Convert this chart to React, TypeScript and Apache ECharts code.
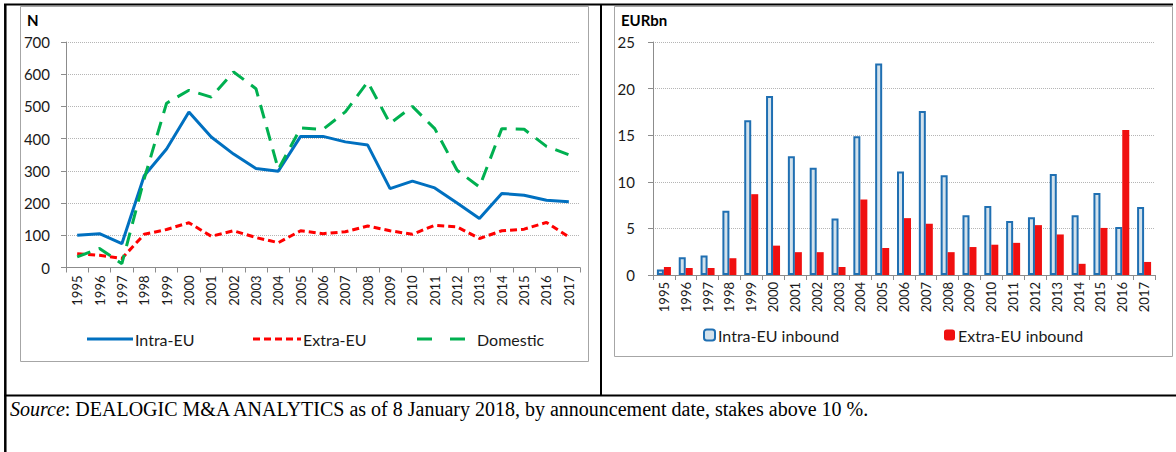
import React, { useEffect, useRef } from "react";
import * as echarts from "echarts";

const years = ["1995","1996","1997","1998","1999","2000","2001","2002","2003","2004","2005","2006","2007","2008","2009","2010","2011","2012","2013","2014","2015","2016","2017"];

// Left chart: number of deals (N)
const intraEU = [100,105,74,285,368,483,405,352,307,299,407,407,390,380,245,268,247,200,152,230,224,209,204];
const extraEU = [43,38,28,103,118,139,97,114,93,77,114,105,111,129,114,103,131,126,90,114,119,140,95];
const domestic = [33,59,12,275,510,550,529,607,555,305,433,429,483,576,447,500,431,302,250,431,429,376,350];

// Right chart: value (EURbn)
const intraEUInbound = [0.6,1.9,2.1,6.9,16.6,19.2,12.75,11.5,6.05,14.9,22.7,11.1,17.6,10.7,6.4,7.4,5.8,6.2,10.85,6.4,8.8,5.15,7.3];
const extraEUInbound = [0.86,0.75,0.75,1.8,8.67,3.15,2.45,2.45,0.86,8.1,2.9,6.1,5.5,2.45,3.0,3.25,3.45,5.35,4.35,1.2,5.05,15.55,1.4];

const leftTicks = { min: 0, max: 700, interval: 100 };
const rightTicks = { min: 0, max: 25, interval: 5 };

const FONT = "Lato, 'Open Sans', sans-serif";
const BLUE = "#0070C0";
const RED = "#FF0000";
const GREEN = "#00B050";

const ICON_SOLID = "path://M0,0L46,0L46,3L0,3Z";
const ICON_SHORT = "path://M0,0L7,0L7,3L0,3ZM11,0L18,0L18,3L11,3ZM22,0L29,0L29,3L22,3ZM33,0L40,0L40,3L33,3ZM44,0L48,0L48,3L44,3Z";
const ICON_LONG = "path://M0,0L15,0L15,3L0,3ZM33,0L48,0L48,3L33,3Z";

export default function App() {
  const ref = useRef<HTMLDivElement>(null);
  useEffect(() => {
    if (!ref.current) return;
    const chart = echarts.init(ref.current, null, { renderer: "svg" });
    const axisCommonX = {
      type: "category" as const,
      data: years,
      boundaryGap: true,
      axisLine: { lineStyle: { color: "#8c8c8c", width: 1 } },
      axisTick: { show: true, length: 5, lineStyle: { color: "#8c8c8c" } },
      axisLabel: { rotate: 90, fontSize: 13, color: "#1a1a1a", fontFamily: FONT, interval: 0, margin: 8 },
      splitLine: { show: false },
    };
    const axisCommonY = {
      type: "value" as const,
      axisLine: { show: true, lineStyle: { color: "#8c8c8c", width: 1 } },
      axisTick: { show: true, length: 5, lineStyle: { color: "#8c8c8c" } },
      splitLine: { show: true, lineStyle: { color: "#b5b5b5", type: "dotted" as const, width: 1 } },
      axisLabel: { fontSize: 15, color: "#1a1a1a", fontFamily: FONT, margin: 16 },
    };
    const legText = { fontSize: 16, color: "#1a1a1a", fontFamily: FONT };
    chart.setOption({
      animation: false,
      backgroundColor: "#ffffff",
      grid: [
        { left: 66, right: 596, top: 42, bottom: 184.5 },
        { left: 653, right: 21, top: 42, bottom: 177 },
      ],
      xAxis: [
        { ...axisCommonX, gridIndex: 0 },
        { ...axisCommonX, gridIndex: 1, axisLabel: { ...axisCommonX.axisLabel, margin: 7 } },
      ],
      yAxis: [
        { ...axisCommonY, gridIndex: 0, ...leftTicks },
        { ...axisCommonY, gridIndex: 1, ...rightTicks, axisLabel: { ...axisCommonY.axisLabel, margin: 18 } },
      ],
      legend: [
        {
          data: [{ name: "Intra-EU", icon: ICON_SOLID, itemStyle: { color: BLUE } }], left: 82, top: 326, itemWidth: 46, itemHeight: 3,
          textStyle: { ...legText, padding: [0, 0, 0, -3] },
        },
        {
          data: [{ name: "Extra-EU", icon: ICON_SHORT, itemStyle: { color: RED } }], left: 248, top: 326, itemWidth: 48, itemHeight: 3,
          textStyle: { ...legText, padding: [0, 0, 0, -3] },
        },
        {
          data: [{ name: "Domestic", icon: ICON_LONG, itemStyle: { color: GREEN } }], left: 412, top: 326, itemWidth: 48, itemHeight: 3,
          textStyle: { ...legText, padding: [0, 0, 0, 7] },
        },
        {
          data: ["Intra-EU inbound"], left: 698, top: 322, itemWidth: 11, itemHeight: 11,
          textStyle: { ...legText, padding: [0, 0, 0, -2] },
        },
        {
          data: ["Extra-EU inbound"], left: 939, top: 322, itemWidth: 11, itemHeight: 11,
          textStyle: { ...legText, padding: [0, 0, 0, -2] },
        },
      ],
      series: [
        {
          name: "Intra-EU", type: "line", xAxisIndex: 0, yAxisIndex: 0, data: intraEU,
          symbol: "none", lineStyle: { color: BLUE, width: 3 }, itemStyle: { color: BLUE },
        },
        {
          name: "Extra-EU", type: "line", xAxisIndex: 0, yAxisIndex: 0, data: extraEU,
          symbol: "none", lineStyle: { color: RED, width: 3, type: [7, 4] }, itemStyle: { color: RED },
        },
        {
          name: "Domestic", type: "line", xAxisIndex: 0, yAxisIndex: 0, data: domestic,
          symbol: "none", lineStyle: { color: GREEN, width: 3, type: [14, 9] }, itemStyle: { color: GREEN },
        },
        {
          name: "Intra-EU inbound", type: "bar", xAxisIndex: 1, yAxisIndex: 1, data: intraEUInbound,
          barWidth: 7, barGap: "0%",
          itemStyle: { color: "#d3e2ec", borderColor: "#1F6FB2", borderWidth: 2 },
        },
        {
          name: "Extra-EU inbound", type: "bar", xAxisIndex: 1, yAxisIndex: 1, data: extraEUInbound,
          barWidth: 7, barGap: "0%",
          itemStyle: { color: "#F01010" },
        },
      ],
      graphic: [
        { type: "rect", silent: true, shape: { x: 20.5, y: 6.5, width: 568, height: 355 }, style: { fill: "none", stroke: "#a6a6a6", lineWidth: 1 } },
        { type: "rect", silent: true, shape: { x: 614.5, y: 6.5, width: 558, height: 350 }, style: { fill: "none", stroke: "#a6a6a6", lineWidth: 1 } },
        { type: "line", silent: true, shape: { x1: 4, y1: 4.5, x2: 1173, y2: 4.5 }, style: { stroke: "#000", lineWidth: 2 } },
        { type: "line", silent: true, shape: { x1: 5.3, y1: 4, x2: 5.3, y2: 452 }, style: { stroke: "#000", lineWidth: 2.5 } },
        { type: "line", silent: true, shape: { x1: 601, y1: 4, x2: 601, y2: 396 }, style: { stroke: "#000", lineWidth: 2 } },
        { type: "line", silent: true, shape: { x1: 4, y1: 395.5, x2: 1176, y2: 395.5 }, style: { stroke: "#000", lineWidth: 2 } },
        { type: "text", silent: true, x: 27, y: 12, style: { text: "N", fontSize: 15, fontWeight: "bold", fontFamily: FONT, fill: "#000" } },
        { type: "text", silent: true, x: 621, y: 12, style: { text: "EURbn", fontSize: 15, fontWeight: "bold", fontFamily: FONT, fill: "#000" } },
        {
          type: "text", silent: true, x: 10, y: 399,
          style: {
            text: "{i|Source}{n|: DEALOGIC M&A ANALYTICS as of 8 January 2018, by announcement date, stakes above 10 %.}",
            rich: {
              i: { fontStyle: "italic", fontSize: 20, fontFamily: "'Liberation Serif', serif", fill: "#000" },
              n: { fontSize: 20, fontFamily: "'Liberation Serif', serif", fill: "#000" },
            },
          },
        },
      ],
    });
    return () => chart.dispose();
  }, []);
  return <div ref={ref} style={{ position: "fixed", left: 0, top: 0, width: 1176, height: 452, background: "#fff" }} />;
}
